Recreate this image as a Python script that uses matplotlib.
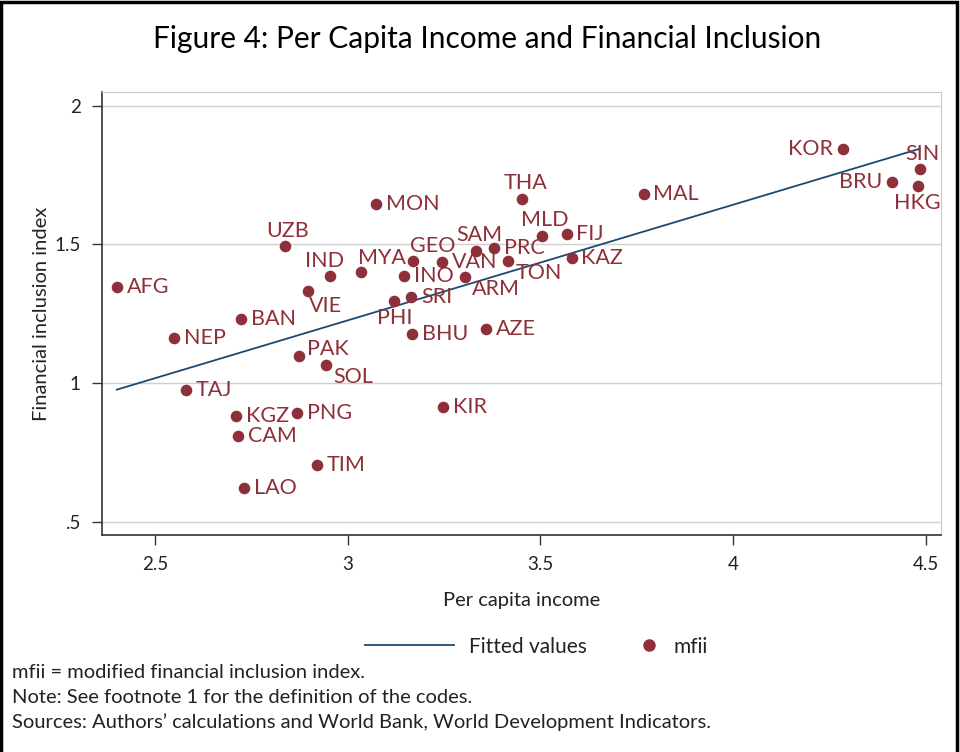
import numpy as np
import matplotlib
matplotlib.use("Agg")
import matplotlib.pyplot as plt
from matplotlib.lines import Line2D
from matplotlib.patches import Rectangle

plt.rcParams["font.family"] = ["Lato", "DejaVu Sans"]

# economy codes, per capita income (x) and modified financial inclusion index (y)
codes = ["KOR", "SIN", "BRU", "HKG", "MAL", "THA", "MON", "MLD", "FIJ", "UZB",
         "SAM", "PRC", "GEO", "VAN", "TON", "KAZ", "MYA", "IND", "INO", "ARM",
         "AFG", "VIE", "SRI", "PHI", "BAN", "AZE", "BHU", "NEP", "PAK", "SOL",
         "TAJ", "KIR", "PNG", "KGZ", "CAM", "TIM", "LAO"]
income = [4.284, 4.484, 4.412, 4.479, 3.768, 3.453, 3.074, 3.505, 3.568, 2.838,
          3.334, 3.381, 3.170, 3.245, 3.417, 3.581, 3.035, 2.955, 3.147, 3.305,
          2.401, 2.897, 3.165, 3.121, 2.723, 3.360, 3.168, 2.549, 2.874, 2.944,
          2.581, 3.248, 2.869, 2.710, 2.716, 2.921, 2.731]
mfii = [1.842, 1.770, 1.723, 1.709, 1.680, 1.665, 1.647, 1.532, 1.536, 1.493,
        1.478, 1.486, 1.442, 1.435, 1.439, 1.450, 1.399, 1.385, 1.388, 1.381,
        1.345, 1.331, 1.309, 1.295, 1.230, 1.194, 1.176, 1.162, 1.097, 1.065,
        0.975, 0.914, 0.892, 0.881, 0.809, 0.705, 0.622]

xticks = [2.5, 3, 3.5, 4, 4.5]
xticklabels = ["2.5", "3", "3.5", "4", "4.5"]
yticks = [0.5, 1, 1.5, 2]
yticklabels = [".5", "1", "1.5", "2"]

# label placement (clock position, Stata style); default is 3 o'clock
label_pos = {"KOR": 9, "BRU": 9, "SIN": 12, "HKG": 6, "THA": 12, "MLD": 12,
             "UZB": 12, "SAM": 12, "GEO": 1, "IND": 11, "MYA": 1, "VIE": 5,
             "PHI": 6, "ARM": 4, "TON": 4, "PAK": 2, "SOL": 4}
clock = {3: ((7, 0), "left", "center"),
         9: ((-7, 0), "right", "center"),
         12: ((2, 4), "center", "bottom"),
         11: ((-4, 4), "center", "bottom"),
         1: ((-2, 3), "left", "bottom"),
         6: ((0, -5), "center", "top"),
         5: ((1, -3), "left", "top"),
         4: ((5, -1), "left", "top"),
         2: ((6, 5), "left", "center")}

RED = "#8e3039"
BLUE = "#1b4a72"
TXT = "#222222"

fig = plt.figure(figsize=(9.6, 7.52), dpi=100)
ax = fig.add_axes([0.106, 0.289, 0.874, 0.588])

x = np.array(income)
y = np.array(mfii)
b, a = np.polyfit(x, y, 1)
xs = np.array([x.min(), x.max()])
ax.plot(xs, a + b * xs, color=BLUE, lw=1.3, zorder=2)
ax.scatter(x, y, s=70, color=RED, zorder=3, linewidths=0)

for c, xi, yi in zip(codes, income, mfii):
    off, ha, va = clock[label_pos.get(c, 3)]
    ax.annotate(c, (xi, yi), xytext=off, textcoords="offset points",
                ha=ha, va=va, fontsize=15.5, color=RED, zorder=4)

ax.set_xlim(2.362, 4.539)
ax.set_ylim(0.455, 2.047)
ax.set_xticks(xticks, xticklabels)
ax.set_yticks(yticks, yticklabels)
ax.tick_params(direction="out", length=7, width=1, color="#333333",
               labelsize=13.5, labelcolor=TXT, pad=8)
ax.yaxis.grid(True, color="#d0d0d0", lw=1)
ax.set_axisbelow(True)
for s in ("top", "right"):
    ax.spines[s].set_color("#c8c8c8")
for s in ("left", "bottom"):
    ax.spines[s].set_color("#333333")
    ax.spines[s].set_linewidth(1.2)
ax.set_xlabel("Per capita income", fontsize=14.5, color=TXT, labelpad=14)
ax.set_ylabel("Financial inclusion index", fontsize=14.5, color=TXT, labelpad=3)

fig.text(0.507, 0.948, "Figure 4: Per Capita Income and Financial Inclusion",
         ha="center", va="center", fontsize=21.5, color="black")

fig.legend([Line2D([], [], color=BLUE, lw=1.3)], ["Fitted values"],
           loc="center left", bbox_to_anchor=(0.380, 0.140), frameon=False,
           fontsize=15, handlelength=4.3, handletextpad=0.7, borderpad=0,
           borderaxespad=0, labelcolor=TXT)
fig.legend([Line2D([], [], color=RED, marker="o", ls="", markersize=8)], ["mfii"],
           loc="center left", bbox_to_anchor=(0.665, 0.140), frameon=False,
           fontsize=15, handlelength=1, handletextpad=0.7, borderpad=0,
           borderaxespad=0, labelcolor=TXT)

notes = ["mfii = modified financial inclusion index.",
         "Note: See footnote 1 for the definition of the codes.",
         "Sources: Authors\u2019 calculations and World Bank, World Development Indicators."]
for i, t in enumerate(notes):
    fig.text(0.012, 0.106 - i * 0.0333, t, ha="left", va="center",
             fontsize=14.5, color=TXT)

fig.patches.append(Rectangle((0.001, -0.01), 0.996, 1.008, transform=fig.transFigure,
                             fill=False, edgecolor="black", lw=2.5))

fig.savefig("out.png", dpi=100)
